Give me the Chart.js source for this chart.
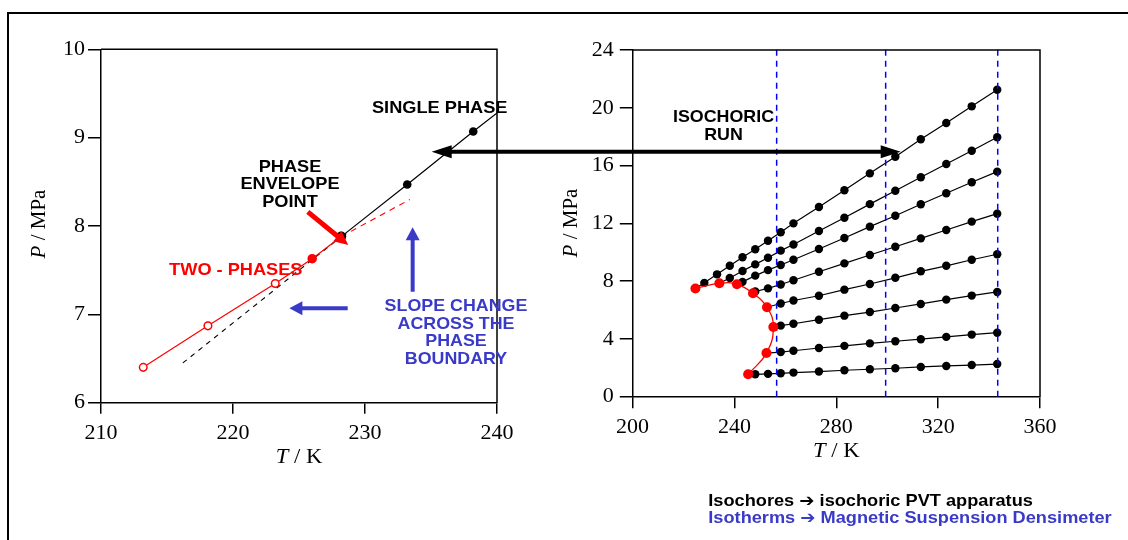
<!DOCTYPE html>
<html><head><meta charset="utf-8">
<script src="https://cdn.jsdelivr.net/npm/chart.js@4.4.1/dist/chart.umd.min.js"></script>
<style>
html,body{margin:0;padding:0;background:#fff;}
#wrap{position:relative;width:1128px;height:540px;overflow:hidden;background:#fff;}
canvas{position:absolute;top:0;}
#cL{left:0;} #cR{left:560px;} #ov{left:0;pointer-events:none;z-index:5;}
</style></head><body>
<div id="wrap">
<canvas id="cL" width="560" height="540"></canvas>
<canvas id="cR" width="568" height="540"></canvas>
<canvas id="ov" width="1128" height="540"></canvas>
</div>
<script>
// ---------------- DATA ----------------
// Left panel: first isochore across the phase boundary
const twoPhaseT = [213.2, 218.1, 223.2, 226.0, 228.2];
const twoPhaseP = [6.40, 6.87, 7.35, 7.63, 7.88];
const twoPhaseSlopeT = [228.2, 233.4];
const twoPhaseSlopeP = [7.88, 8.30];
const singleExtrapT = [216.2, 228.2];
const singleExtrapP = [6.45, 7.88];
const leftXTicks = [210, 220, 230, 240];
const leftYTicks = [6, 7, 8, 9, 10];

// Right panel: isochores (temperatures in K, pressures in MPa)
const isoT = [228.2, 233.2, 238.2, 243.2, 248.2, 253.2, 258.2, 263.2, 273.2, 283.2, 293.2, 303.2, 313.2, 323.2, 333.2, 343.2];
const isochore1 = [7.88, 8.47, 9.07, 9.65, 10.21, 10.80, 11.38, 12.00, 13.13, 14.29, 15.46, 16.61, 17.82, 18.95, 20.10, 21.25];
const isochore2 = [null, null, 8.22, 8.70, 9.16, 9.62, 10.11, 10.54, 11.47, 12.39, 13.33, 14.26, 15.19, 16.11, 17.03, 17.96];
const isochore3 = [null, null, null, 7.95, 8.38, 8.76, 9.12, 9.48, 10.22, 10.99, 11.77, 12.53, 13.32, 14.08, 14.84, 15.58];
const isochore4 = [null, null, null, null, 7.28, 7.50, 7.77, 8.06, 8.65, 9.23, 9.81, 10.38, 10.96, 11.54, 12.12, 12.67];
const isochore5 = [null, null, null, null, null, null, 6.45, 6.66, 6.99, 7.41, 7.80, 8.23, 8.68, 9.06, 9.48, 9.86];
const isochore6 = [null, null, null, null, null, null, 4.92, 5.05, 5.33, 5.61, 5.86, 6.14, 6.42, 6.72, 7.00, 7.25];
const isochore7 = [null, null, null, null, null, null, 3.09, 3.18, 3.37, 3.52, 3.69, 3.84, 3.98, 4.14, 4.30, 4.43];
const isochore8 = [null, null, null, null, 1.55, 1.58, 1.62, 1.67, 1.74, 1.83, 1.90, 1.97, 2.06, 2.13, 2.19, 2.26];
// phase envelope (dew points), one per isochore
const envelopeT = [224.7, 234.1, 241.0, 247.3, 252.8, 255.3, 252.6, 245.4];
const envelopeP = [7.49, 7.85, 7.78, 7.16, 6.19, 4.82, 3.02, 1.55];
// isotherms measured with the magnetic suspension densimeter
const isothermT = [256.6, 299.4, 343.4];
const rightXTicks = [200, 240, 280, 320, 360];
const rightYTicks = [0, 4, 8, 12, 16, 20, 24];

// ---------------- STYLE ----------------
const SERIF = '"Liberation Serif","Times New Roman",serif';
const SANS = '"Liberation Sans","DejaVu Sans",Arial,sans-serif';
const BLUE_TXT = '#3a3ac8';
const RED = '#ff0000';
const tickFont = {family: SERIF, size: 22};

const framePlugin = {
  id: 'frame',
  afterDraw(chart) {
    const {ctx, chartArea: a} = chart;
    ctx.save();
    ctx.strokeStyle = '#000'; ctx.lineWidth = 1.5;
    ctx.beginPath();
    ctx.moveTo(a.left, a.top); ctx.lineTo(a.right, a.top); ctx.lineTo(a.right, a.bottom);
    ctx.stroke();
    ctx.restore();
  }
};

function pts(xs, ys) {
  const out = [];
  xs.forEach((x, i) => { if (ys[i] !== null && ys[i] !== undefined) out.push({x: x, y: ys[i]}); });
  return out;
}
function axisOpts(min, max, ticksArr, tickLen, pad, fit) {
  return {
    type: 'linear', min: min, max: max,
    afterBuildTicks: s => { s.ticks = ticksArr.map(v => ({value: v})); },
    ticks: {font: tickFont, color: '#000', padding: pad, maxRotation: 0, autoSkip: false},
    grid: {drawOnChartArea: false, drawTicks: true, tickLength: tickLen, color: '#000', lineWidth: 1.5},
    border: {display: true, color: '#000', width: 1.5},
    afterFit: fit
  };
}

// ---------------- LEFT CHART ----------------
const leftChart = new Chart(document.getElementById('cL'), {
  type: 'scatter',
  data: {datasets: [
    {label: 'single phase', data: pts(isoT, isochore1), showLine: true, borderColor: '#000', borderWidth: 1.2,
     pointBackgroundColor: '#000', pointBorderColor: '#000', pointBorderWidth: 0,
     pointRadius: c => c.dataIndex === 0 ? 5 : 4.3},
    {label: 'two phases', data: pts(twoPhaseT, twoPhaseP), showLine: true, borderColor: RED, borderWidth: 1.2,
     pointBackgroundColor: ['#fff', '#fff', '#fff', RED, RED], pointBorderColor: RED, pointBorderWidth: 1.5,
     pointRadius: [3.8, 3.8, 3.8, 4, 0]},
    {label: 'two-phase slope', data: pts(twoPhaseSlopeT, twoPhaseSlopeP), showLine: true, borderColor: RED,
     borderWidth: 1.1, borderDash: [6, 5], pointRadius: 0},
    {label: 'single-phase extrapolation', data: pts(singleExtrapT, singleExtrapP), showLine: true, borderColor: '#000',
     borderWidth: 1.1, borderDash: [5, 5], pointRadius: 0}
  ]},
  options: {
    responsive: false, animation: false, events: [],
    plugins: {legend: {display: false}, tooltip: {enabled: false}},
    layout: {padding: {left: 41, right: 63, top: 49.3, bottom: 77.3}},
    scales: {
      x: axisOpts(210, 240, leftXTicks, 11, 6, s => { s.height = 60; }),
      y: axisOpts(6, 10, leftYTicks, 13, 3, s => { s.width = 60; })
    }
  },
  plugins: [framePlugin]
});

// ---------------- RIGHT CHART ----------------
const isochores = [isochore1, isochore2, isochore3, isochore4, isochore5, isochore6, isochore7, isochore8];
const rightSets = [];
rightSets.push({label: 'phase envelope', data: pts(envelopeT, envelopeP), showLine: true, borderColor: RED,
  borderWidth: 1.3, tension: 0.45, pointBackgroundColor: RED, pointBorderColor: RED, pointBorderWidth: 0, pointRadius: 5});
isothermT.forEach((t, i) => rightSets.push({label: 'isotherm ' + (i + 1), data: [{x: t, y: 0}, {x: t, y: 24.2}],
  showLine: true, borderColor: '#0000ff', borderWidth: 1.5, borderDash: [6, 5], pointRadius: 0, clip: false}));
isochores.forEach((arr, i) => {
  const d = [{x: envelopeT[i], y: envelopeP[i]}].concat(pts(isoT, arr));
  rightSets.push({label: 'isochore ' + (i + 1), data: d, showLine: true, borderColor: '#000', borderWidth: 1.2,
    pointBackgroundColor: '#000', pointBorderColor: '#000', pointBorderWidth: 0,
    pointRadius: c => c.dataIndex === 0 ? 0 : 4.2});
});
const rightChart = new Chart(document.getElementById('cR'), {
  type: 'scatter',
  data: {datasets: rightSets},
  options: {
    responsive: false, animation: false, events: [],
    plugins: {legend: {display: false}, tooltip: {enabled: false}},
    layout: {padding: {left: 22.5, right: 88, top: 50, bottom: 83.3}},
    scales: {
      x: axisOpts(200, 360, rightXTicks, 11.5, 6, s => { s.height = 60; }),
      y: axisOpts(0, 24, rightYTicks, 12.7, 6, s => { s.width = 50; })
    }
  },
  plugins: [framePlugin]
});

// ---------------- OVERLAY (frame, titles, annotations) ----------------
const ov = document.getElementById('ov');
const ctx = ov.getContext('2d');
const RIGHT_OFF = 560;
function Lx(v) { return leftChart.scales.x.getPixelForValue(v); }
function Ly(v) { return leftChart.scales.y.getPixelForValue(v); }
function Rx(v) { return RIGHT_OFF + rightChart.scales.x.getPixelForValue(v); }
function Ry(v) { return rightChart.scales.y.getPixelForValue(v); }

function txt(s, x, y, font, color, align, sx) {
  ctx.save();
  ctx.font = font; ctx.fillStyle = color; ctx.textBaseline = 'alphabetic'; ctx.textAlign = align || 'center';
  ctx.translate(x, y); ctx.scale(sx || 1, 1);
  ctx.fillText(s, 0, 0);
  ctx.restore();
}
function mixedTitle(parts, cx, cy, rot, sx) {
  ctx.save();
  ctx.translate(cx, cy);
  if (rot) ctx.rotate(-Math.PI / 2);
  ctx.scale(sx || 1, 1);
  let w = 0;
  parts.forEach(p => { ctx.font = p[1]; w += ctx.measureText(p[0]).width; });
  let x = -w / 2;
  ctx.fillStyle = '#000'; ctx.textBaseline = 'alphabetic'; ctx.textAlign = 'left';
  parts.forEach(p => { ctx.font = p[1]; ctx.fillText(p[0], x, 0); x += ctx.measureText(p[0]).width; });
  ctx.restore();
}
function arrowHead(x2, y2, ang, len, hw, color) {
  ctx.save();
  ctx.fillStyle = color;
  ctx.translate(x2, y2); ctx.rotate(ang);
  ctx.beginPath(); ctx.moveTo(0, 0); ctx.lineTo(-len, -hw / 2); ctx.lineTo(-len, hw / 2); ctx.closePath(); ctx.fill();
  ctx.restore();
}
function arrow(x1, y1, x2, y2, color, w, len, hw, both) {
  const ang = Math.atan2(y2 - y1, x2 - x1);
  const c = Math.cos(ang), s = Math.sin(ang);
  const sx = both ? x1 + c * len * 0.9 : x1, sy = both ? y1 + s * len * 0.9 : y1;
  ctx.save();
  ctx.strokeStyle = color; ctx.lineWidth = w; ctx.lineCap = 'butt';
  ctx.beginPath(); ctx.moveTo(sx, sy); ctx.lineTo(x2 - c * len * 0.9, y2 - s * len * 0.9); ctx.stroke();
  ctx.restore();
  arrowHead(x2, y2, ang, len, hw, color);
  if (both) arrowHead(x1, y1, ang + Math.PI, len, hw, color);
}

// outer frame (top + left edges)
ctx.fillStyle = '#000';
ctx.fillRect(7, 12, 1121, 2);
ctx.fillRect(7, 12, 2, 528);

// axis titles
const tItal = 'italic 21px ' + SERIF, tReg = '21px ' + SERIF;
mixedTitle([['T', tItal], [' / K', tReg]], (Lx(210) + Lx(240)) / 2, 463, false, 1.08);
mixedTitle([['T', tItal], [' / K', tReg]], (Rx(200) + Rx(360)) / 2, 456.5, false, 1.08);
mixedTitle([['P', tItal], [' / MPa', tReg]], 45, 224, true, 1);
mixedTitle([['P', tItal], [' / MPa', tReg]], 577, 223, true, 1);

// left panel annotations
const BF = 'bold 17px ' + SANS;
txt('SINGLE PHASE', 439.7, 112.7, BF, '#000', 'center', 1.07);
txt('PHASE', 290, 171.7, BF, '#000', 'center', 1.07);
txt('ENVELOPE', 290, 188.7, BF, '#000', 'center', 1.07);
txt('POINT', 290, 206.7, BF, '#000', 'center', 1.07);
txt('TWO - PHASES', 235.8, 275, BF, RED, 'center', 1.07);
txt('SLOPE CHANGE', 456, 311, BF, BLUE_TXT, 'center', 1.05);
txt('ACROSS THE', 456, 328.7, BF, BLUE_TXT, 'center', 1.05);
txt('PHASE', 456, 346.3, BF, BLUE_TXT, 'center', 1.05);
txt('BOUNDARY', 456, 364.3, BF, BLUE_TXT, 'center', 1.05);

arrow(Lx(225.67), Ly(8.16), Lx(228.73), Ly(7.785), RED, 5, 14, 13, false);
arrow(Lx(233.61), Ly(7.256), Lx(233.61), Ly(7.985), BLUE_TXT, 4, 13, 14, false);
arrow(Lx(228.69), Ly(7.068), Lx(224.27), Ly(7.068), BLUE_TXT, 4, 13, 14, false);

// isochoric run double arrow linking both panels
const arrowY = Ly(8.84);
arrow(Lx(235.05), arrowY, Rx(305.3), arrowY, '#000', 4, 20, 13, true);

// right panel annotations
txt('ISOCHORIC', 723.5, 122, BF, '#000', 'center', 1.05);
txt('RUN', 723.5, 140, BF, '#000', 'center', 1.05);

// footnote
txt('Isochores \u2794 isochoric PVT apparatus', 708.3, 506, BF, '#000', 'left', 1.07);
txt('Isotherms \u2794 Magnetic Suspension Densimeter', 708.3, 523.3, BF, BLUE_TXT, 'left', 1.07);
</script>
</body></html>
